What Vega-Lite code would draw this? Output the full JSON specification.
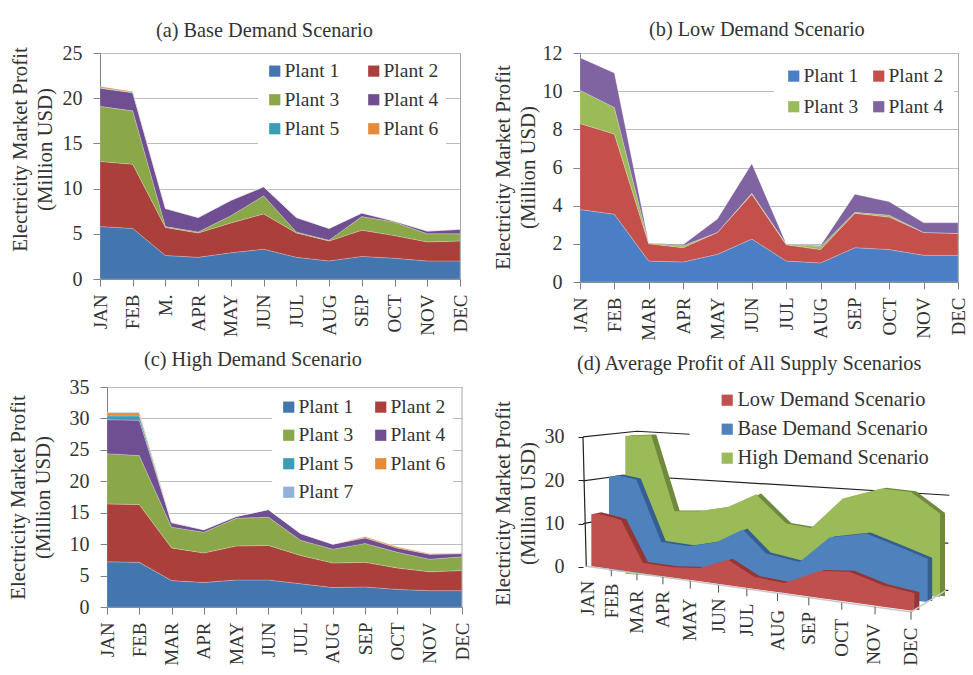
{"$schema":"https://vega.github.io/schema/vega-lite/v6.json","background":"white","padding":{"left":6,"top":19,"right":0,"bottom":0},"spacing":8,"align":"none","config":{"view":{"stroke":"#a6a6a6"},"font":"Liberation Serif","title":{"font":"Liberation Serif","fontSize":20.3,"fontWeight":"normal","color":"#333333","anchor":"start","frame":"group"},"axis":{"labelFont":"Liberation Serif","titleFont":"Liberation Serif","labelColor":"#333333","titleColor":"#333333","titleFontWeight":"normal","titleFontSize":20.8,"titleLineHeight":25,"labelFontSize":20,"domainColor":"#808080","tickColor":"#808080","gridColor":"#bcbcbc","tickSize":7,"labelPadding":11},"legend":{"labelFont":"Liberation Serif","labelFontSize":19.5,"labelColor":"#333333","symbolType":"square","symbolSize":125,"symbolStrokeWidth":0,"labelOffset":0,"labelLimit":300}},"datasets":{"a":[{"m":"JAN","p":"Plant 1","v":5.8},{"m":"FEB","p":"Plant 1","v":5.6},{"m":"MAR","p":"Plant 1","v":2.6},{"m":"APR","p":"Plant 1","v":2.4},{"m":"MAY","p":"Plant 1","v":2.9},{"m":"JUN","p":"Plant 1","v":3.3},{"m":"JUL","p":"Plant 1","v":2.4},{"m":"AUG","p":"Plant 1","v":2.0},{"m":"SEP","p":"Plant 1","v":2.5},{"m":"OCT","p":"Plant 1","v":2.3},{"m":"NOV","p":"Plant 1","v":2.0},{"m":"DEC","p":"Plant 1","v":2.0},{"m":"JAN","p":"Plant 2","v":7.2},{"m":"FEB","p":"Plant 2","v":7.1},{"m":"MAR","p":"Plant 2","v":3.1},{"m":"APR","p":"Plant 2","v":2.7},{"m":"MAY","p":"Plant 2","v":3.3},{"m":"JUN","p":"Plant 2","v":3.9},{"m":"JUL","p":"Plant 2","v":2.7},{"m":"AUG","p":"Plant 2","v":2.2},{"m":"SEP","p":"Plant 2","v":2.9},{"m":"OCT","p":"Plant 2","v":2.5},{"m":"NOV","p":"Plant 2","v":2.1},{"m":"DEC","p":"Plant 2","v":2.2},{"m":"JAN","p":"Plant 3","v":6.1},{"m":"FEB","p":"Plant 3","v":5.9},{"m":"MAR","p":"Plant 3","v":0.1},{"m":"APR","p":"Plant 3","v":0.1},{"m":"MAY","p":"Plant 3","v":0.8},{"m":"JUN","p":"Plant 3","v":2.0},{"m":"JUL","p":"Plant 3","v":0.1},{"m":"AUG","p":"Plant 3","v":0.1},{"m":"SEP","p":"Plant 3","v":1.5},{"m":"OCT","p":"Plant 3","v":1.5},{"m":"NOV","p":"Plant 3","v":0.9},{"m":"DEC","p":"Plant 3","v":0.8},{"m":"JAN","p":"Plant 4","v":2.0},{"m":"FEB","p":"Plant 4","v":2.0},{"m":"MAR","p":"Plant 4","v":2.0},{"m":"APR","p":"Plant 4","v":1.6},{"m":"MAY","p":"Plant 4","v":1.7},{"m":"JUN","p":"Plant 4","v":1.0},{"m":"JUL","p":"Plant 4","v":1.6},{"m":"AUG","p":"Plant 4","v":1.3},{"m":"SEP","p":"Plant 4","v":0.4},{"m":"OCT","p":"Plant 4","v":0.1},{"m":"NOV","p":"Plant 4","v":0.3},{"m":"DEC","p":"Plant 4","v":0.5},{"m":"JAN","p":"Plant 5","v":0.05},{"m":"FEB","p":"Plant 5","v":0.05},{"m":"MAR","p":"Plant 5","v":0},{"m":"APR","p":"Plant 5","v":0},{"m":"MAY","p":"Plant 5","v":0},{"m":"JUN","p":"Plant 5","v":0},{"m":"JUL","p":"Plant 5","v":0},{"m":"AUG","p":"Plant 5","v":0},{"m":"SEP","p":"Plant 5","v":0},{"m":"OCT","p":"Plant 5","v":0},{"m":"NOV","p":"Plant 5","v":0},{"m":"DEC","p":"Plant 5","v":0},{"m":"JAN","p":"Plant 6","v":0.15},{"m":"FEB","p":"Plant 6","v":0.1},{"m":"MAR","p":"Plant 6","v":0},{"m":"APR","p":"Plant 6","v":0},{"m":"MAY","p":"Plant 6","v":0},{"m":"JUN","p":"Plant 6","v":0},{"m":"JUL","p":"Plant 6","v":0},{"m":"AUG","p":"Plant 6","v":0},{"m":"SEP","p":"Plant 6","v":0},{"m":"OCT","p":"Plant 6","v":0},{"m":"NOV","p":"Plant 6","v":0},{"m":"DEC","p":"Plant 6","v":0}],"b":[{"m":"JAN","p":"Plant 1","v":3.8},{"m":"FEB","p":"Plant 1","v":3.55},{"m":"MAR","p":"Plant 1","v":1.1},{"m":"APR","p":"Plant 1","v":1.05},{"m":"MAY","p":"Plant 1","v":1.45},{"m":"JUN","p":"Plant 1","v":2.25},{"m":"JUL","p":"Plant 1","v":1.1},{"m":"AUG","p":"Plant 1","v":1.0},{"m":"SEP","p":"Plant 1","v":1.8},{"m":"OCT","p":"Plant 1","v":1.7},{"m":"NOV","p":"Plant 1","v":1.4},{"m":"DEC","p":"Plant 1","v":1.4},{"m":"JAN","p":"Plant 2","v":4.5},{"m":"FEB","p":"Plant 2","v":4.2},{"m":"MAR","p":"Plant 2","v":0.9},{"m":"APR","p":"Plant 2","v":0.75},{"m":"MAY","p":"Plant 2","v":1.15},{"m":"JUN","p":"Plant 2","v":2.35},{"m":"JUL","p":"Plant 2","v":0.85},{"m":"AUG","p":"Plant 2","v":0.7},{"m":"SEP","p":"Plant 2","v":1.8},{"m":"OCT","p":"Plant 2","v":1.7},{"m":"NOV","p":"Plant 2","v":1.2},{"m":"DEC","p":"Plant 2","v":1.15},{"m":"JAN","p":"Plant 3","v":1.75},{"m":"FEB","p":"Plant 3","v":1.4},{"m":"MAR","p":"Plant 3","v":0.05},{"m":"APR","p":"Plant 3","v":0.1},{"m":"MAY","p":"Plant 3","v":0},{"m":"JUN","p":"Plant 3","v":0.05},{"m":"JUL","p":"Plant 3","v":0.05},{"m":"AUG","p":"Plant 3","v":0.15},{"m":"SEP","p":"Plant 3","v":0.05},{"m":"OCT","p":"Plant 3","v":0.1},{"m":"NOV","p":"Plant 3","v":0},{"m":"DEC","p":"Plant 3","v":0},{"m":"JAN","p":"Plant 4","v":1.7},{"m":"FEB","p":"Plant 4","v":1.8},{"m":"MAR","p":"Plant 4","v":0},{"m":"APR","p":"Plant 4","v":0.05},{"m":"MAY","p":"Plant 4","v":0.7},{"m":"JUN","p":"Plant 4","v":1.55},{"m":"JUL","p":"Plant 4","v":0},{"m":"AUG","p":"Plant 4","v":0.05},{"m":"SEP","p":"Plant 4","v":0.95},{"m":"OCT","p":"Plant 4","v":0.7},{"m":"NOV","p":"Plant 4","v":0.5},{"m":"DEC","p":"Plant 4","v":0.55}],"c":[{"m":"JAN","p":"Plant 1","v":7.2},{"m":"FEB","p":"Plant 1","v":7.1},{"m":"MAR","p":"Plant 1","v":4.2},{"m":"APR","p":"Plant 1","v":3.9},{"m":"MAY","p":"Plant 1","v":4.3},{"m":"JUN","p":"Plant 1","v":4.3},{"m":"JUL","p":"Plant 1","v":3.7},{"m":"AUG","p":"Plant 1","v":3.1},{"m":"SEP","p":"Plant 1","v":3.2},{"m":"OCT","p":"Plant 1","v":2.8},{"m":"NOV","p":"Plant 1","v":2.6},{"m":"DEC","p":"Plant 1","v":2.6},{"m":"JAN","p":"Plant 2","v":9.2},{"m":"FEB","p":"Plant 2","v":9.2},{"m":"MAR","p":"Plant 2","v":5.2},{"m":"APR","p":"Plant 2","v":4.7},{"m":"MAY","p":"Plant 2","v":5.4},{"m":"JUN","p":"Plant 2","v":5.5},{"m":"JUL","p":"Plant 2","v":4.5},{"m":"AUG","p":"Plant 2","v":3.9},{"m":"SEP","p":"Plant 2","v":3.9},{"m":"OCT","p":"Plant 2","v":3.4},{"m":"NOV","p":"Plant 2","v":3.0},{"m":"DEC","p":"Plant 2","v":3.2},{"m":"JAN","p":"Plant 3","v":8.0},{"m":"FEB","p":"Plant 3","v":7.8},{"m":"MAR","p":"Plant 3","v":3.3},{"m":"APR","p":"Plant 3","v":3.3},{"m":"MAY","p":"Plant 3","v":4.4},{"m":"JUN","p":"Plant 3","v":4.5},{"m":"JUL","p":"Plant 3","v":2.4},{"m":"AUG","p":"Plant 3","v":2.2},{"m":"SEP","p":"Plant 3","v":3.0},{"m":"OCT","p":"Plant 3","v":2.5},{"m":"NOV","p":"Plant 3","v":2.0},{"m":"DEC","p":"Plant 3","v":2.2},{"m":"JAN","p":"Plant 4","v":5.4},{"m":"FEB","p":"Plant 4","v":5.6},{"m":"MAR","p":"Plant 4","v":0.7},{"m":"APR","p":"Plant 4","v":0.4},{"m":"MAY","p":"Plant 4","v":0.3},{"m":"JUN","p":"Plant 4","v":1.2},{"m":"JUL","p":"Plant 4","v":1.1},{"m":"AUG","p":"Plant 4","v":0.8},{"m":"SEP","p":"Plant 4","v":0.9},{"m":"OCT","p":"Plant 4","v":0.7},{"m":"NOV","p":"Plant 4","v":0.8},{"m":"DEC","p":"Plant 4","v":0.5},{"m":"JAN","p":"Plant 5","v":0.6},{"m":"FEB","p":"Plant 5","v":0.7},{"m":"MAR","p":"Plant 5","v":0},{"m":"APR","p":"Plant 5","v":0},{"m":"MAY","p":"Plant 5","v":0},{"m":"JUN","p":"Plant 5","v":0},{"m":"JUL","p":"Plant 5","v":0},{"m":"AUG","p":"Plant 5","v":0},{"m":"SEP","p":"Plant 5","v":0},{"m":"OCT","p":"Plant 5","v":0},{"m":"NOV","p":"Plant 5","v":0},{"m":"DEC","p":"Plant 5","v":0},{"m":"JAN","p":"Plant 6","v":0.5},{"m":"FEB","p":"Plant 6","v":0.5},{"m":"MAR","p":"Plant 6","v":0.1},{"m":"APR","p":"Plant 6","v":0},{"m":"MAY","p":"Plant 6","v":0},{"m":"JUN","p":"Plant 6","v":0},{"m":"JUL","p":"Plant 6","v":0},{"m":"AUG","p":"Plant 6","v":0},{"m":"SEP","p":"Plant 6","v":0.2},{"m":"OCT","p":"Plant 6","v":0.2},{"m":"NOV","p":"Plant 6","v":0.1},{"m":"DEC","p":"Plant 6","v":0.1},{"m":"JAN","p":"Plant 7","v":0.1},{"m":"FEB","p":"Plant 7","v":0.1},{"m":"MAR","p":"Plant 7","v":0},{"m":"APR","p":"Plant 7","v":0},{"m":"MAY","p":"Plant 7","v":0},{"m":"JUN","p":"Plant 7","v":0},{"m":"JUL","p":"Plant 7","v":0},{"m":"AUG","p":"Plant 7","v":0},{"m":"SEP","p":"Plant 7","v":0},{"m":"OCT","p":"Plant 7","v":0},{"m":"NOV","p":"Plant 7","v":0},{"m":"DEC","p":"Plant 7","v":0}],"d":[{"s":"Low Demand Scenario","pos":0.25,"top":12.15,"base":0.15},{"s":"Low Demand Scenario","pos":0.4,"top":12.38,"base":0},{"s":"Low Demand Scenario","pos":0.95,"top":11.31,"base":-0.6},{"s":"Low Demand Scenario","pos":1.15,"top":10.77,"base":-0.77},{"s":"Low Demand Scenario","pos":1.8,"top":0.92,"base":-1.46},{"s":"Low Demand Scenario","pos":2.7,"top":-0.08,"base":-2.46},{"s":"Low Demand Scenario","pos":3.5,"top":-0.23,"base":-3.31},{"s":"Low Demand Scenario","pos":4.35,"top":1.69,"base":-4.23},{"s":"Low Demand Scenario","pos":5.15,"top":-2.31,"base":-5.08},{"s":"Low Demand Scenario","pos":6.05,"top":-3.69,"base":-6},{"s":"Low Demand Scenario","pos":7.1,"top":-0.92,"base":-7.15},{"s":"Low Demand Scenario","pos":8.0,"top":-1.08,"base":-8.08},{"s":"Low Demand Scenario","pos":9.0,"top":-4.23,"base":-9.15},{"s":"Low Demand Scenario","pos":9.95,"top":-6,"base":-10.15},{"s":"Base Demand Scenario","pos":0.78,"top":20.77,"base":-0.77},{"s":"Base Demand Scenario","pos":1.05,"top":21.08,"base":-1},{"s":"Base Demand Scenario","pos":1.6,"top":20.15,"base":-1.38},{"s":"Base Demand Scenario","pos":2.35,"top":5.77,"base":-2},{"s":"Base Demand Scenario","pos":3.2,"top":4.77,"base":-2.62},{"s":"Base Demand Scenario","pos":4.0,"top":5.69,"base":-3.23},{"s":"Base Demand Scenario","pos":4.8,"top":8.62,"base":-3.85},{"s":"Base Demand Scenario","pos":5.5,"top":3.08,"base":-4.38},{"s":"Base Demand Scenario","pos":6.5,"top":1.15,"base":-5.08},{"s":"Base Demand Scenario","pos":7.4,"top":6.77,"base":-5.77},{"s":"Base Demand Scenario","pos":8.5,"top":7.69,"base":-6.62},{"s":"Base Demand Scenario","pos":9.5,"top":4.62,"base":-7.38},{"s":"Base Demand Scenario","pos":10.35,"top":1.92,"base":-8.08},{"s":"High Demand Scenario","pos":1.27,"top":30.23,"base":-1.54},{"s":"High Demand Scenario","pos":2.05,"top":30.38,"base":-2},{"s":"High Demand Scenario","pos":2.75,"top":12.85,"base":-2.38},{"s":"High Demand Scenario","pos":3.5,"top":12.85,"base":-2.85},{"s":"High Demand Scenario","pos":4.35,"top":13.85,"base":-3.31},{"s":"High Demand Scenario","pos":5.2,"top":16.77,"base":-3.77},{"s":"High Demand Scenario","pos":6.1,"top":10,"base":-4.31},{"s":"High Demand Scenario","pos":6.85,"top":9,"base":-4.69},{"s":"High Demand Scenario","pos":7.8,"top":15.77,"base":-5.23},{"s":"High Demand Scenario","pos":8.95,"top":18.08,"base":-5.92},{"s":"High Demand Scenario","pos":9.85,"top":17.31,"base":-6.38},{"s":"High Demand Scenario","pos":10.72,"top":12.31,"base":-6.92}],"dlines":[{"g":"g30","i":0,"pos":0,"val":30},{"g":"g30","i":1,"pos":1.62,"val":31.3},{"g":"g30","i":2,"pos":3.2,"val":30.6},{"g":"g20","i":0,"pos":0,"val":19.85},{"g":"g20","i":1,"pos":1.25,"val":21.15},{"g":"g20","i":2,"pos":11,"val":16.54},{"g":"g10","i":0,"pos":0,"val":10},{"g":"g10","i":1,"pos":0.3,"val":10.4},{"g":"wall","i":0,"pos":0,"val":30},{"g":"wall","i":1,"pos":0.1,"val":0},{"g":"r10","i":0,"pos":10.85,"val":5.5},{"g":"r10","i":1,"pos":10.97,"val":5.5},{"g":"r0","i":0,"pos":10.85,"val":-5.4},{"g":"r0","i":1,"pos":10.97,"val":-5.4}],"dfloor":[{"i":0,"pos":0.1,"val":0.15},{"i":1,"pos":9.85,"val":-10.38},{"i":2,"pos":10.9,"val":-5.4}],"dmonths":[{"m":"JAN","tp":0.1,"t0":0,"t1":0,"lp":0.15,"ly":-3.2},{"m":"FEB","tp":0.85,"t0":-0.77,"t1":-2.15,"lp":0.88,"ly":-3.85},{"m":"MAR","tp":1.62,"t0":-1.54,"t1":-3.08,"lp":1.62,"ly":-5.4},{"m":"APR","tp":2.4,"t0":-2.31,"t1":-4,"lp":2.4,"ly":-5.54},{"m":"MAY","tp":3.22,"t0":-3.23,"t1":-5,"lp":3.22,"ly":-7.3},{"m":"JUN","tp":4.07,"t0":-4.23,"t1":-5.92,"lp":4.07,"ly":-7.3},{"m":"JUL","tp":4.92,"t0":-5.08,"t1":-6.77,"lp":4.92,"ly":-8.46},{"m":"AUG","tp":5.84,"t0":-6.15,"t1":-7.85,"lp":5.85,"ly":-9.85},{"m":"SEP","tp":6.78,"t0":-7.08,"t1":-8.85,"lp":6.8,"ly":-10.38},{"m":"OCT","tp":7.77,"t0":-8.23,"t1":-9.85,"lp":7.78,"ly":-11.92},{"m":"NOV","tp":8.77,"t0":-9.23,"t1":-10.92,"lp":8.75,"ly":-13.08},{"m":"DEC","tp":9.85,"t0":-10.38,"t1":-12.15,"lp":9.85,"ly":-14}]},"vconcat":[{"bounds":"flush","spacing":120,"resolve":{"scale":{"color":"independent"},"legend":{"color":"independent"}},"hconcat":[{"width":360,"height":226,"title":{"text":"(a) Base Demand Scenario","dx":56,"offset":2},"data":{"name":"a"},"mark":{"type":"area","opacity":1,"stroke":"#ffffff","strokeOpacity":0.3,"strokeWidth":0.7},"encoding":{"x":{"field":"m","type":"ordinal","sort":null,"scale":{"type":"point","padding":0,"domain":["JAN","FEB","MAR","APR","MAY","JUN","JUL","AUG","SEP","OCT","NOV","DEC"]},"axis":{"title":null,"labelAngle":270,"labelFontSize":19,"labelPadding":8,"labelExpr":"datum.value=='MAR'?'M.':datum.label"}},"y":{"field":"v","type":"quantitative","stack":"zero","scale":{"domain":[0,25]},"axis":{"values":[0,5,10,15,20,25],"grid":true,"title":["Electricity Market Profit","(Million USD)"],"titleY":96,"titleX":-70}},"order":{"field":"p","type":"nominal","sort":"ascending"},"color":{"field":"p","type":"nominal","scale":{"domain":["Plant 1","Plant 2","Plant 3","Plant 4","Plant 5","Plant 6"],"range":["#4376ae","#ab3f3c","#8aa74a","#6f4f92","#3a9cb5","#e58a3a"]},"legend":{"title":null,"orient":"none","direction":"horizontal","legendX":158,"legendY":1,"columns":2,"fillColor":"white","padding":7,"rowPadding":8,"columnPadding":24}}}},{"width":378,"height":229,"title":{"text":"(b) Low Demand Scenario","dx":69,"offset":3},"data":{"name":"b"},"mark":{"type":"area","opacity":1,"stroke":"#ffffff","strokeOpacity":0.3,"strokeWidth":0.7},"encoding":{"x":{"field":"m","type":"ordinal","sort":null,"scale":{"type":"point","padding":0,"domain":["JAN","FEB","MAR","APR","MAY","JUN","JUL","AUG","SEP","OCT","NOV","DEC"]},"axis":{"title":null,"labelAngle":270,"labelFontSize":19,"labelPadding":8}},"y":{"field":"v","type":"quantitative","stack":"zero","scale":{"domain":[0,12]},"axis":{"values":[0,2,4,6,8,10,12],"grid":true,"title":["Electricity Market Profit","(Million USD)"],"titleY":114,"titleX":-67}},"order":{"field":"p","type":"nominal","sort":"ascending"},"color":{"field":"p","type":"nominal","scale":{"domain":["Plant 1","Plant 2","Plant 3","Plant 4"],"range":["#4a7fc5","#c4504c","#9bbb59","#8064a2"]},"legend":{"title":null,"orient":"none","direction":"horizontal","legendX":194,"legendY":3,"columns":2,"fillColor":"white","padding":10,"rowPadding":10,"columnPadding":10}}}}]},{"bounds":"flush","spacing":121,"resolve":{"scale":{"color":"independent"},"legend":{"color":"independent"}},"hconcat":[{"width":362,"height":220,"view":{"stroke":null},"title":{"text":"(c) High Demand Scenario","dx":44,"offset":7},"layer":[{"data":{"name":"c"},"mark":{"type":"area","opacity":1,"stroke":"#ffffff","strokeOpacity":0.3,"strokeWidth":0.7},"encoding":{"x":{"field":"m","type":"ordinal","sort":null,"scale":{"type":"point","padding":0,"range":[7,362],"domain":["JAN","FEB","MAR","APR","MAY","JUN","JUL","AUG","SEP","OCT","NOV","DEC"]},"axis":{"title":null,"labelAngle":270,"labelFontSize":19,"labelPadding":8}},"y":{"field":"v","type":"quantitative","stack":"zero","scale":{"domain":[0,35]},"axis":{"offset":-7,"values":[0,5,10,15,20,25,30,35],"grid":true,"title":["Electricity Market Profit","(Million USD)"],"titleY":110,"titleX":-79}},"order":{"field":"p","type":"nominal","sort":"ascending"},"color":{"field":"p","type":"nominal","scale":{"domain":["Plant 1","Plant 2","Plant 3","Plant 4","Plant 5","Plant 6","Plant 7"],"range":["#4376ae","#ab3f3c","#8aa74a","#6f4f92","#3a9cb5","#e58a3a","#93b0d8"]},"legend":{"title":null,"orient":"none","direction":"horizontal","legendX":172,"legendY":3,"columns":2,"fillColor":"white","padding":7,"rowPadding":7.5,"columnPadding":17}}}},{"data":{"values":[{"edge":"DEC"}]},"mark":{"type":"rule","color":"#a6a6a6"},"encoding":{"x":{"field":"edge","type":"ordinal","sort":null,"scale":{"type":"point","padding":0,"range":[7,362],"domain":["JAN","FEB","MAR","APR","MAY","JUN","JUL","AUG","SEP","OCT","NOV","DEC"]}}}}]},{"width":368,"height":232,"view":{"stroke":null},"title":{"text":"(d) Average Profit of All Supply Scenarios","dx":-6,"offset":13},"encoding":{"x":{"type":"quantitative","scale":{"domain":[0,11.05],"nice":false,"zero":false},"axis":null}},"layer":[{"data":{"name":"dlines"},"mark":{"type":"line","color":"#222222","strokeWidth":1.2},"encoding":{"x":{"field":"pos","type":"quantitative"},"y":{"field":"val","type":"quantitative","scale":{"domain":[-12,41.5],"nice":false,"zero":false},"axis":{"values":[0,10,20,30],"domain":false,"grid":false,"tickColor":"#222222","tickSize":5,"labelPadding":14,"title":["Electricity Market Profit","(Million USD)"],"titleY":116,"titleX":-70}},"detail":{"field":"g"},"order":{"field":"i"}}},{"data":{"name":"d"},"transform":[{"filter":"datum.s=='High Demand Scenario'"}],"mark":{"type":"area","color":"#6f8a3c","xOffset":5,"yOffset":-0.7,"y2Offset":-0.7,"opacity":1},"encoding":{"x":{"field":"pos","type":"quantitative"},"y":{"field":"top","type":"quantitative"},"y2":{"field":"base"}}},{"data":{"name":"d"},"transform":[{"filter":"datum.s=='High Demand Scenario'"}],"mark":{"type":"area","opacity":1},"encoding":{"x":{"field":"pos","type":"quantitative"},"y":{"field":"top","type":"quantitative"},"y2":{"field":"base"},"color":{"field":"s","type":"nominal","scale":{"domain":["Low Demand Scenario","Base Demand Scenario","High Demand Scenario"],"range":["#c0504d","#4f81bd","#9bbb59"]},"legend":{"title":null,"orient":"none","legendX":134,"legendY":3,"columns":1,"padding":0,"rowPadding":8,"labelFontSize":20.4}}}},{"data":{"name":"d"},"transform":[{"filter":"datum.s=='Base Demand Scenario'"}],"mark":{"type":"area","color":"#365f91","xOffset":4.5,"yOffset":-1,"y2Offset":-1,"opacity":1},"encoding":{"x":{"field":"pos","type":"quantitative"},"y":{"field":"top","type":"quantitative"},"y2":{"field":"base"}}},{"data":{"name":"d"},"transform":[{"filter":"datum.s=='Base Demand Scenario'"}],"mark":{"type":"area","opacity":1},"encoding":{"x":{"field":"pos","type":"quantitative"},"y":{"field":"top","type":"quantitative"},"y2":{"field":"base"},"color":{"field":"s","type":"nominal","scale":{"domain":["Low Demand Scenario","Base Demand Scenario","High Demand Scenario"],"range":["#c0504d","#4f81bd","#9bbb59"]},"legend":{"title":null,"orient":"none","legendX":134,"legendY":3,"columns":1,"padding":0,"rowPadding":8,"labelFontSize":20.4}}}},{"data":{"name":"d"},"transform":[{"filter":"datum.s=='Low Demand Scenario'"}],"mark":{"type":"area","color":"#943634","xOffset":5,"yOffset":-1,"y2Offset":-1,"opacity":1},"encoding":{"x":{"field":"pos","type":"quantitative"},"y":{"field":"top","type":"quantitative"},"y2":{"field":"base"}}},{"data":{"name":"d"},"transform":[{"filter":"datum.s=='Low Demand Scenario'"}],"mark":{"type":"area","opacity":1},"encoding":{"x":{"field":"pos","type":"quantitative"},"y":{"field":"top","type":"quantitative"},"y2":{"field":"base"},"color":{"field":"s","type":"nominal","scale":{"domain":["Low Demand Scenario","Base Demand Scenario","High Demand Scenario"],"range":["#c0504d","#4f81bd","#9bbb59"]},"legend":{"title":null,"orient":"none","legendX":134,"legendY":3,"columns":1,"padding":0,"rowPadding":8,"labelFontSize":20.4}}}},{"data":{"name":"dfloor"},"mark":{"type":"line","color":"#c8c8c8","strokeWidth":1.5},"encoding":{"x":{"field":"pos","type":"quantitative"},"y":{"field":"val","type":"quantitative"},"order":{"field":"i"}}},{"data":{"name":"dmonths"},"mark":{"type":"rule","color":"#555555"},"encoding":{"x":{"field":"tp","type":"quantitative"},"y":{"field":"t0","type":"quantitative"},"y2":{"field":"t1"}}},{"data":{"name":"dmonths"},"mark":{"type":"text","angle":270,"align":"right","baseline":"middle","font":"Liberation Serif","fontSize":19,"color":"#333333"},"encoding":{"x":{"field":"lp","type":"quantitative"},"y":{"field":"ly","type":"quantitative"},"text":{"field":"m"}}}]}]}]}
